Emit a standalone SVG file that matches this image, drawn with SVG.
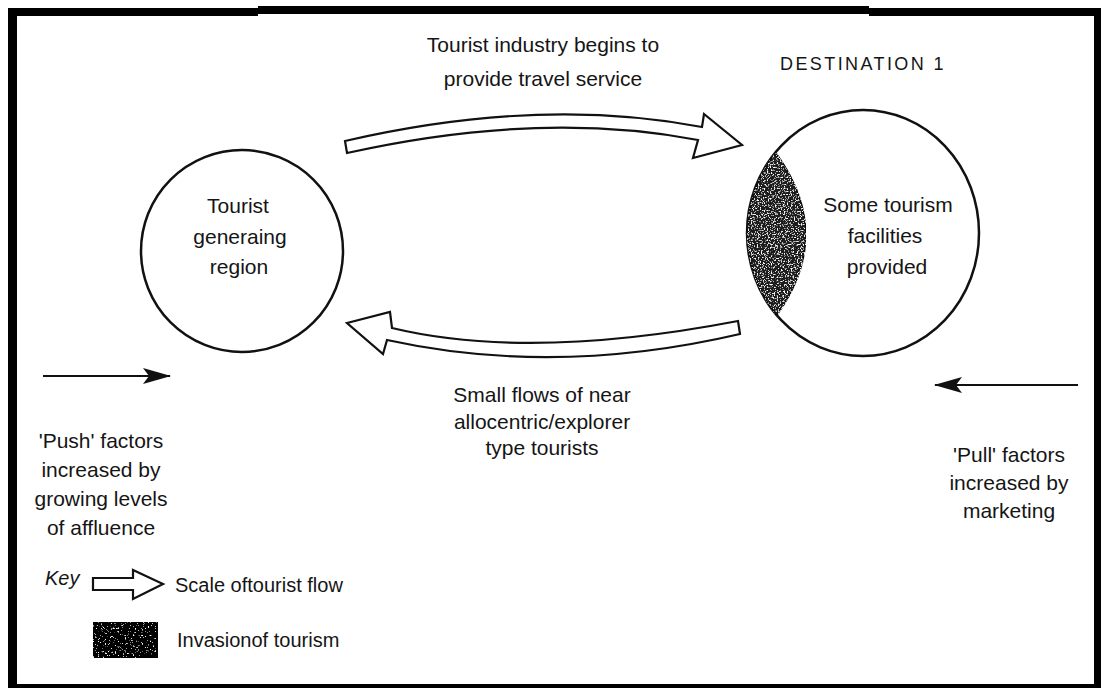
<svg xmlns="http://www.w3.org/2000/svg" width="1101" height="688" viewBox="0 0 1101 688">
<style>
  .t { font-family: "Liberation Sans", Arial, Helvetica, sans-serif; font-size: 21px; fill: #151515; text-anchor: middle; }
  .tl { font-family: "Liberation Sans", Arial, Helvetica, sans-serif; font-size: 20px; fill: #151515; }
  .node { fill: #fff; stroke: #111; stroke-width: 2.5; }
  .flow { fill: #fff; stroke: #111; stroke-width: 2.2; stroke-linejoin: miter; }
  .thin { stroke: #111; stroke-width: 2.2; fill: none; }
</style>
<defs>
  <marker id="ahBig" viewBox="0 0 28 16" refX="27" refY="8" markerWidth="28" markerHeight="16" markerUnits="userSpaceOnUse" orient="auto">
    <path d="M0,0 L28,8 L0,16 L6,8 Z" fill="#111"/>
  </marker>
  <filter id="speckle" x="0" y="0" width="100%" height="100%">
    <feTurbulence type="fractalNoise" baseFrequency="0.7" numOctaves="2" seed="7" result="n"/>
    <feColorMatrix in="n" type="matrix" values="0 0 0 0 1  0 0 0 0 1  0 0 0 0 1  0 0 0 -5 2.3" result="w"/>
    <feComposite in="w" in2="SourceGraphic" operator="in" result="wc"/>
    <feMerge><feMergeNode in="SourceGraphic"/><feMergeNode in="wc"/></feMerge>
  </filter>
  <filter id="speckleKey" x="0" y="0" width="100%" height="100%">
    <feTurbulence type="fractalNoise" baseFrequency="0.6" numOctaves="2" seed="3" result="n"/>
    <feColorMatrix in="n" type="matrix" values="0 0 0 0 1  0 0 0 0 1  0 0 0 0 1  0 0 0 -7 2.55" result="w"/>
    <feComposite in="w" in2="SourceGraphic" operator="in" result="wc"/>
    <feMerge><feMergeNode in="SourceGraphic"/><feMergeNode in="wc"/></feMerge>
  </filter>
</defs>
<rect width="1101" height="688" fill="#fff"/>
<g id="frame" fill="#000">
  <rect x="8" y="8" width="9" height="680"/>
  <rect x="8" y="8" width="250" height="8"/>
  <rect x="258" y="6" width="611" height="8"/>
  <rect x="869" y="8" width="232" height="8"/>
  <rect x="1094" y="8" width="7" height="680"/>
  <rect x="8" y="684" width="1093" height="4"/>
</g>

<g id="origin">
  <ellipse class="node" cx="242" cy="251" rx="101" ry="101"/>
  <text class="t" x="238" y="213">Tourist</text>
  <text class="t" x="240" y="244">generaing</text>
  <text class="t" x="239" y="274">region</text>
</g>

<g id="destination">
  <text class="t" x="863" y="70" style="font-size:18px;letter-spacing:2.4px">DESTINATION 1</text>
  <ellipse class="node" cx="863" cy="233" rx="116" ry="123"/>
  <path d="M776,153 A116,123 0 0 0 777,315 Q835,234 776,153 Z" fill="#1e1e1e" stroke="#111" stroke-width="1.5" filter="url(#speckle)"/>
  <text class="t" x="888" y="212">Some tourism</text>
  <text class="t" x="885" y="243">facilities</text>
  <text class="t" x="887" y="274">provided</text>
</g>

<g id="connectors">
  <path class="flow" d="M345,141 Q540,96 702,127 L704,114 L742,145 L693,158 L698,140 Q540,110 347,153 Z"/>
  <path class="flow" d="M347,323 L390,312 L392,328 Q529,361 738,321 L740,334 Q556,377 387,340 L383,354 Z"/>
  <line class="thin" x1="43" y1="376" x2="170" y2="376" marker-end="url(#ahBig)"/>
  <line class="thin" x1="1078" y1="385" x2="935" y2="385" marker-end="url(#ahBig)"/>
</g>

<g id="label-outbound">
  <text class="t" x="543" y="52">Tourist industry begins to</text>
  <text class="t" x="543" y="86">provide travel service</text>
</g>

<g id="label-return">
  <text class="t" x="542" y="402">Small flows of near</text>
  <text class="t" x="542" y="429">allocentric/explorer</text>
  <text class="t" x="542" y="455">type tourists</text>
</g>

<g id="push">
  <text class="t" x="101" y="448">'Push' factors</text>
  <text class="t" x="101" y="477">increased by</text>
  <text class="t" x="101" y="506">growing levels</text>
  <text class="t" x="101" y="535">of affluence</text>
</g>

<g id="pull">
  <text class="t" x="1009" y="462">'Pull' factors</text>
  <text class="t" x="1009" y="490">increased by</text>
  <text class="t" x="1009" y="518">marketing</text>
</g>

<g id="key">
  <text class="tl" x="45" y="585" style="font-style:italic">Key</text>
  <path class="flow" d="M93,578 L133,578 L133,570 L163,584 L133,599 L133,590 L93,590 Z"/>
  <text class="tl" x="175" y="592">Scale oftourist flow</text>
  <rect x="93" y="622" width="65" height="36" fill="#050505" filter="url(#speckleKey)"/>
  <text class="tl" x="177" y="647">Invasionof tourism</text>
</g>
</svg>
